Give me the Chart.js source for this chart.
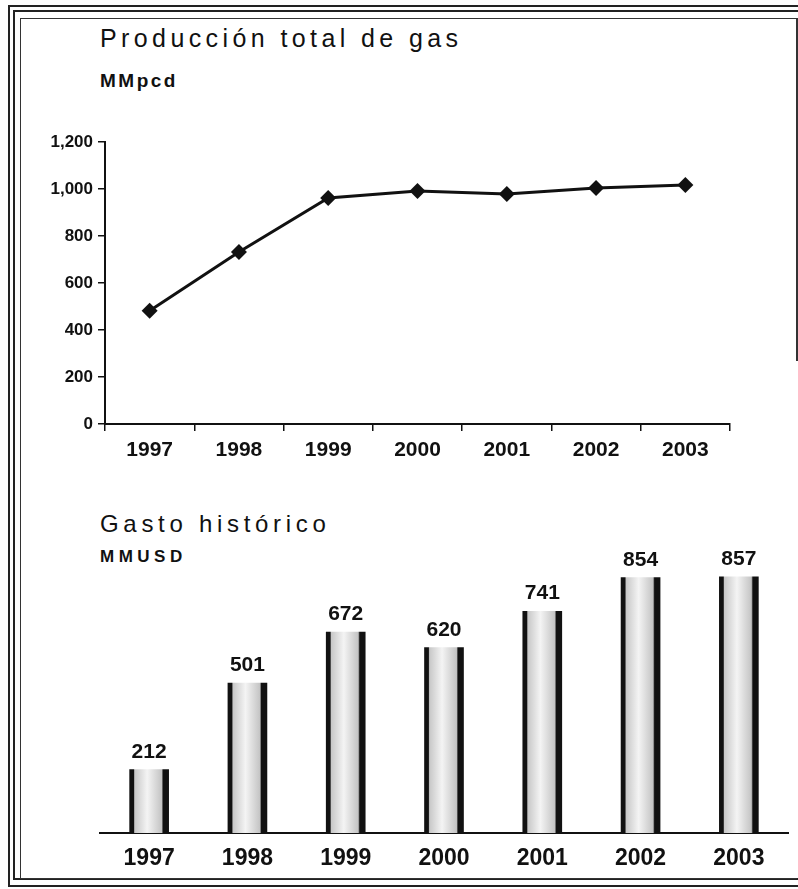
<!DOCTYPE html>
<html lang="es">
<head>
    <meta charset="UTF-8">
    <title>Producción total de gas / Gasto histórico</title>
    <script src="https://cdnjs.cloudflare.com/ajax/libs/Chart.js/4.4.1/chart.umd.min.js"></script>
    <style>
        body { margin: 0; background: #fff; width: 798px; height: 889px; position: relative; overflow: hidden; font-family: "Liberation Sans", Arial, sans-serif; color: #111; }
        .frame { position: absolute; box-sizing: border-box; }
        .title { position: absolute; left: 100px; line-height: 1; white-space: nowrap; }
        .big { font-size: 25px; letter-spacing: 4.4px; }
        .unit { font-weight: bold; }
        canvas { position: absolute; }
    </style>
</head>
<body>
    <!-- double frame round the figure -->
    <div class="frame" style="left:8px; top:5px; width:800px; height:882px; border:2px solid #222;"></div>
    <div class="frame" style="left:13px; top:10px; width:800px; height:870px; border:2px solid #222;"></div>
    <div class="frame" style="left:20px; top:18px; width:777px; height:861px; border:1px solid #333; border-right:none;"></div>
    <div class="frame" style="left:796px; top:18px; width:2px; height:343px; background:#333;"></div>

    <div class="title big" style="top:26px;">Producción total de gas</div>
    <div class="title unit" style="top:71px; font-size:19px; letter-spacing:2.5px;">MMpcd</div>
    <canvas id="gasChart" width="730" height="345" style="left:30px; top:125px;"></canvas>

    <div class="title big" style="top:512px; font-size:24px; letter-spacing:4.7px;">Gasto histórico</div>
    <div class="title unit" style="top:548px; font-size:17px; letter-spacing:4.5px;">MMUSD</div>
    <canvas id="spendChart" width="708" height="389" style="left:90px; top:500px;"></canvas>

    <script>
        const years = ['1997', '1998', '1999', '2000', '2001', '2002', '2003'];
        const gasProduction = [482, 732, 962, 991, 979, 1004, 1017];   // MMpcd
        const spending = [212, 501, 672, 620, 741, 854, 857];           // MMUSD
        const gasTicks = [0, 200, 400, 600, 800, 1000, 1200];

        const FONT = '"Liberation Sans", Arial, sans-serif';
        const BAR_W = 39;

        function initCharts() {
            new Chart(document.getElementById('gasChart'), {
                type: 'line',
                data: {
                    labels: years,
                    datasets: [{
                        data: gasProduction,
                        borderColor: '#111',
                        borderWidth: 3,
                        backgroundColor: '#111',
                        pointStyle: 'rectRot',
                        pointRadius: 8,
                        pointBackgroundColor: '#111',
                        pointBorderWidth: 0,
                        tension: 0
                    }]
                },
                options: {
                    responsive: false,
                    animation: false,
                    layout: { padding: { top: 17, right: 30, left: 0, bottom: 0 } },
                    plugins: { legend: { display: false }, tooltip: { enabled: false } },
                    scales: {
                        x: {
                            offset: true,
                            grid: { offset: true, drawOnChartArea: false, color: '#111', tickLength: 7, lineWidth: 1.5 },
                            border: { color: '#111', width: 2 },
                            ticks: { color: '#111', padding: 7, font: { family: FONT, size: 21, weight: 'bold' } },
                            afterFit: s => { s.height = 46; }
                        },
                        y: {
                            min: gasTicks[0],
                            max: gasTicks[gasTicks.length - 1],
                            afterBuildTicks: s => { s.ticks = gasTicks.map(v => ({ value: v })); },
                            grid: { drawOnChartArea: false, color: '#111', tickLength: 7, lineWidth: 1.5 },
                            border: { color: '#111', width: 2 },
                            ticks: {
                                color: '#111', padding: 5,
                                font: { family: FONT, size: 17, weight: 'bold' },
                                callback: v => v.toLocaleString('en-US')
                            },
                            afterFit: s => { s.width = 75; }
                        }
                    }
                }
            });

            // values printed above each bar
            const barLabels = {
                id: 'barLabels',
                afterDatasetsDraw(chart) {
                    const ctx = chart.ctx;
                    const meta = chart.getDatasetMeta(0);
                    ctx.save();
                    ctx.font = 'bold 21px ' + FONT;
                    ctx.fillStyle = '#111';
                    ctx.textAlign = 'center';
                    ctx.textBaseline = 'alphabetic';
                    meta.data.forEach((bar, i) => {
                        ctx.fillText(String(chart.data.datasets[0].data[i]), bar.x, bar.y - 12);
                    });
                    ctx.restore();
                }
            };

            new Chart(document.getElementById('spendChart'), {
                type: 'bar',
                data: {
                    labels: years,
                    datasets: [{
                        data: spending,
                        barThickness: BAR_W,
                        borderWidth: 0,
                        backgroundColor: c => {
                            const xs = c.chart.scales.x;
                            if (!xs || c.dataIndex === undefined) return '#ccc';
                            const cx = xs.getPixelForValue(c.dataIndex);
                            if (!isFinite(cx)) return '#ccc';
                            const g = c.chart.ctx.createLinearGradient(cx - BAR_W / 2, 0, cx + BAR_W / 2, 0);
                            g.addColorStop(0, '#111');
                            g.addColorStop(0.1, '#111');
                            g.addColorStop(0.13, '#c8c8c8');
                            g.addColorStop(0.45, '#f4f4f4');
                            g.addColorStop(0.82, '#c4c4c4');
                            g.addColorStop(0.86, '#111');
                            g.addColorStop(1, '#111');
                            return g;
                        }
                    }]
                },
                options: {
                    responsive: false,
                    animation: false,
                    layout: { padding: { top: 34, right: 10, left: 10, bottom: 0 } },
                    plugins: { legend: { display: false }, tooltip: { enabled: false } },
                    scales: {
                        x: {
                            grid: { display: true, drawOnChartArea: false, drawTicks: false, color: 'rgba(0,0,0,0)' },
                            border: { color: '#111', width: 2 },
                            ticks: { color: '#111', padding: 12, font: { family: FONT, size: 23, weight: 'bold' } },
                            afterFit: s => { s.height = 56; }
                        },
                        y: { display: false, min: 0, max: 1000 }
                    }
                },
                plugins: [barLabels]
            });
        }

        function checkChartAndInit() {
            if (typeof Chart === 'undefined') {
                setTimeout(checkChartAndInit, 100);
                return;
            }
            initCharts();
        }

        document.addEventListener('DOMContentLoaded', checkChartAndInit);
    </script>
</body>
</html>
